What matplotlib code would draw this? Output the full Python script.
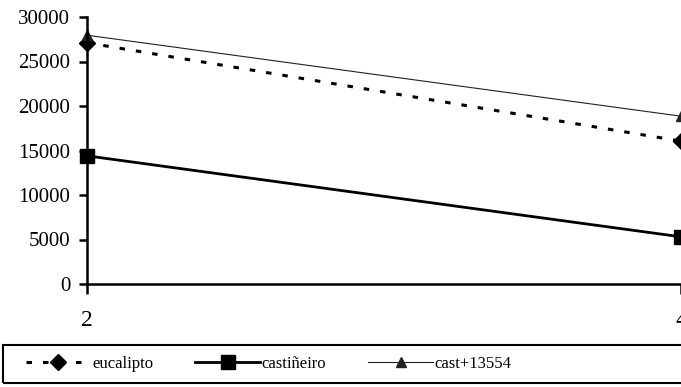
import matplotlib
matplotlib.use("Agg")
import matplotlib.pyplot as plt
from matplotlib.patches import Rectangle

# data
x_vals = [2, 4]
eucalipto = [27100, 16050]
castineiro = [14400, 5300]
cast_shift = [27954, 18854]
y_ticks = [0, 5000, 10000, 15000, 20000, 25000, 30000]

plt.rcParams['font.family'] = ['Liberation Serif', 'DejaVu Serif']

fig = plt.figure(figsize=(6.81, 3.87), dpi=100)
ax = fig.add_axes([87 / 681, 1 - 284 / 387, 1 - 87 / 681, (284 - 17) / 387])

l1, = ax.plot(x_vals, eucalipto, color='black', lw=2.2, ls=(0, (1.8, 3.6)),
              marker='D', ms=8, clip_on=False, label='eucalipto')
l2, = ax.plot(x_vals, castineiro, color='black', lw=2.0, ls='-',
              marker='s', ms=10, clip_on=False, label='castiñeiro')
l3, = ax.plot(x_vals, cast_shift, color='#222222', lw=0.8, ls='-',
              marker='^', ms=7, clip_on=False, label='cast+13554')

ax.set_xlim(2, 4)
ax.set_ylim(0, 30000)
ax.set_xticks(x_vals)
ax.set_yticks(y_ticks)

for side in ['top', 'right']:
    ax.spines[side].set_visible(False)
for side in ['left', 'bottom']:
    ax.spines[side].set_linewidth(1.8)

ax.tick_params(axis='y', direction='out', length=6, width=1.8, pad=6, labelsize=15)
ax.tick_params(axis='x', direction='out', length=7, width=1.8, pad=12, labelsize=17)

# legend strip across the bottom
fig.patches.append(Rectangle((3 / 681, 4 / 387), 1.0, 38 / 387, transform=fig.transFigure,
                             fill=False, ec='black', lw=1.5))
fig.legend(handles=[l1, l2, l3], loc='center left', bbox_to_anchor=(14 / 681, 23 / 387),
           ncol=3, frameon=False, fontsize=12, handlelength=3.9, handletextpad=0.1,
           columnspacing=2.5, borderpad=0.2)

fig.savefig('out.png', dpi=100)
